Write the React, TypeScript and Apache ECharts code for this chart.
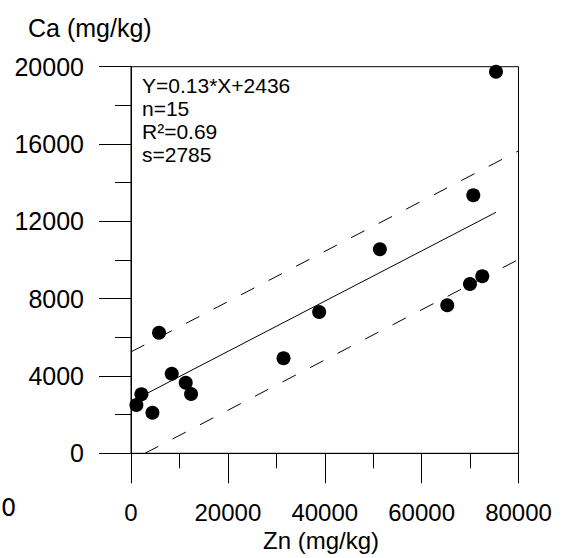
import React, { useEffect, useRef } from "react";
import * as echarts from "echarts";

// Scatter data (Zn vs Ca, mg/kg)
const znValues = [1116, 2149, 4421, 5785, 8409, 11302, 12397, 31488, 38843, 51384, 65289, 69979, 70661, 72521, 75351];
const caValues = [2499, 3052, 2100, 6239, 4118, 3652, 3068, 4915, 7310, 10553, 7656, 8758, 13347, 9157, 19741];

// Regression annotation
const statsLines = ["Y=0.13*X+2436", "n=15", "R\u00B2=0.69", "s=2785"];

// Fitted line parameters (as drawn)
const fitSlope = 0.13;
const fitIntercept = 2436;
const drawnFitIntercept = 2670;
const bandHalfWidth = 2810;

// Axis ranges
const xMin = 0;
const xMax = 80000;
const xInterval = 20000;
const yMin = 0;
const yMax = 20000;
const yInterval = 4000;

const FONT = "Liberation Sans, Arial, sans-serif";

export default function App() {
  const ref = useRef<HTMLDivElement>(null);

  useEffect(() => {
    const chart = echarts.init(ref.current!, null, { renderer: "svg" });

    const points = znValues.map((x, i) => [x, caValues[i]]);
    const dataXMin = Math.min(...znValues);
    const dataXMax = Math.max(...znValues);
    const fitLine = [
      [dataXMin, fitSlope * dataXMin + drawnFitIntercept],
      [dataXMax, fitSlope * dataXMax + drawnFitIntercept],
    ];
    const upperLine = [
      [xMin, fitSlope * xMin + fitIntercept + bandHalfWidth],
      [xMax, fitSlope * xMax + fitIntercept + bandHalfWidth],
    ];
    const lowerStart = Math.max(xMin, (yMin - (fitIntercept - bandHalfWidth)) / fitSlope);
    const lowerLine = [
      [lowerStart, fitSlope * lowerStart + fitIntercept - bandHalfWidth],
      [xMax, fitSlope * xMax + fitIntercept - bandHalfWidth],
    ];

    const lineBase = {
      type: "line" as const,
      symbol: "none",
      showSymbol: false,
      silent: true,
      clip: true,
      z: 2,
    };

    const plain = (v: number) => String(v);

    const option: any = {
      animation: false,
      backgroundColor: "#fff",
      grid: {
        left: 131,
        top: 66.7,
        right: 44.5,
        bottom: 104.7,
        show: true,
        borderColor: "#000",
        borderWidth: 1,
        backgroundColor: "transparent",
      },
      xAxis: {
        type: "value",
        min: xMin,
        max: xMax,
        interval: xInterval,
        axisLine: { show: true, onZero: false, lineStyle: { color: "#000", width: 1 } },
        axisTick: { show: true, inside: false, length: 30, lineStyle: { color: "#000", width: 1 } },
        minorTick: { show: true, splitNumber: 2, length: 15, lineStyle: { color: "#000", width: 1 } },
        splitLine: { show: false },
        minorSplitLine: { show: false },
        axisLabel: { fontSize: 24, color: "#000", fontFamily: FONT, margin: 47, formatter: plain },
      },
      yAxis: {
        type: "value",
        min: yMin,
        max: yMax,
        interval: yInterval,
        axisLine: { show: true, onZero: false, lineStyle: { color: "#000", width: 1 } },
        axisTick: { show: true, inside: false, length: 32, lineStyle: { color: "#000", width: 1 } },
        minorTick: { show: true, splitNumber: 2, length: 16, lineStyle: { color: "#000", width: 1 } },
        splitLine: { show: false },
        minorSplitLine: { show: false },
        axisLabel: { fontSize: 25, color: "#000", fontFamily: FONT, margin: 47, formatter: plain },
      },
      series: [
        {
          type: "scatter",
          data: points,
          symbol: "circle",
          symbolSize: 14,
          itemStyle: { color: "#000", opacity: 1 },
          silent: true,
          z: 3,
        },
        { ...lineBase, data: fitLine, lineStyle: { color: "#000", width: 1, type: "solid" } },
        { ...lineBase, data: upperLine, lineStyle: { color: "#000", width: 1, type: [15, 16] } },
        { ...lineBase, data: lowerLine, lineStyle: { color: "#000", width: 1, type: [15, 16] } },
      ],
      graphic: [
        {
          type: "text",
          x: 28,
          y: 28,
          style: { text: "Ca (mg/kg)", fontSize: 25, fontFamily: FONT, fill: "#000", align: "left", verticalAlign: "middle" },
        },
        {
          type: "text",
          x: 321,
          y: 540,
          style: { text: "Zn (mg/kg)", fontSize: 24, fontFamily: FONT, fill: "#000", align: "center", verticalAlign: "middle" },
        },
        {
          type: "text",
          x: 1,
          y: 508.3,
          style: { text: "0", fontSize: 24, fontFamily: "DejaVu Sans, sans-serif", fill: "#000", align: "left", verticalAlign: "middle" },
        },
        ...statsLines.map((t, i) => ({
          type: "text",
          x: 142,
          y: 85 + i * 23.3,
          style: { text: t, fontSize: 21, fontFamily: FONT, fill: "#000", align: "left", verticalAlign: "middle" },
        })),
      ],
    };

    chart.setOption(option);
    return () => chart.dispose();
  }, []);

  return (
    <div
      ref={ref}
      style={{ position: "fixed", left: 0, top: 0, width: 563, height: 558, background: "#fff" }}
    />
  );
}
